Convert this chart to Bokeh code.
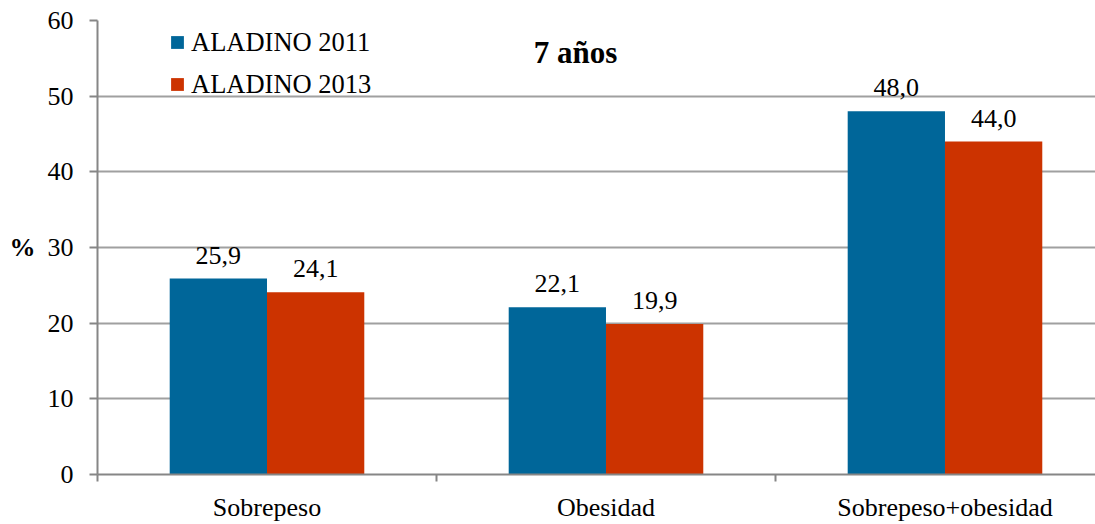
from bokeh.plotting import figure
from bokeh.models import (ColumnDataSource, Range1d, FixedTicker, LabelSet, Label,
                          Legend, LegendItem)
from bokeh.core.properties import value
from bokeh.embed import file_html
from bokeh.resources import INLINE

categories = ["Sobrepeso", "Obesidad", "Sobrepeso+obesidad"]
series_names = ["ALADINO 2011", "ALADINO 2013"]
values_2011 = [25.9, 22.1, 48.0]
values_2013 = [24.1, 19.9, 44.0]
y_ticks = [0, 10, 20, 30, 40, 50, 60]
colors = ["#006699", "#CC3300"]

FONT = "Times New Roman"
BW = 0.287

centers = [i + 0.5 for i in range(len(categories))]

p = figure(width=1095, height=524, output_backend="svg", toolbar_location=None,
           x_range=Range1d(0, 2.944), y_range=Range1d(0, 60),
           min_border_left=97, min_border_right=0, min_border_top=20, min_border_bottom=50)
p.outline_line_color = None
p.background_fill_color = "white"

src1 = ColumnDataSource(dict(x=[c - BW / 2 for c in centers], top=values_2011,
                             lab=[f"{v:.1f}".replace(".", ",") for v in values_2011]))
src2 = ColumnDataSource(dict(x=[c + BW / 2 for c in centers], top=values_2013,
                             lab=[f"{v:.1f}".replace(".", ",") for v in values_2013]))

r1 = p.vbar(x="x", top="top", width=BW, source=src1, fill_color=colors[0], line_color=None)
r2 = p.vbar(x="x", top="top", width=BW, source=src2, fill_color=colors[1], line_color=None)

for s in (src1, src2):
    p.add_layout(LabelSet(x="x", y="top", text="lab", source=s, text_align="center",
                          text_baseline="alphabetic", y_offset=15,
                          text_font=value(FONT), text_font_size="26px", text_color="black"))

# axes
p.yaxis.ticker = FixedTicker(ticks=y_ticks)
p.yaxis.major_tick_out = 8
p.yaxis.major_tick_in = 0
p.yaxis.minor_tick_out = 0
p.yaxis.axis_line_color = "#868686"
p.yaxis.axis_line_width = 2
p.yaxis.major_tick_line_color = "#868686"
p.yaxis.major_tick_line_width = 2
p.yaxis.major_label_text_font = FONT
p.yaxis.major_label_text_font_size = "26px"
p.yaxis.major_label_text_color = "black"
p.yaxis.major_label_standoff = 16
p.yaxis.axis_label = "%"
p.yaxis.axis_label_orientation = "horizontal"
p.yaxis.axis_label_text_font = FONT
p.yaxis.axis_label_text_font_size = "26px"
p.yaxis.axis_label_text_font_style = "bold"
p.yaxis.axis_label_text_color = "black"
p.yaxis.axis_label_standoff = 9

p.xaxis.ticker = FixedTicker(ticks=centers, minor_ticks=[0, 1, 2, 3])
p.xaxis.major_label_overrides = {c: n for c, n in zip(centers, categories)}
p.xaxis.major_tick_out = 0
p.xaxis.major_tick_in = 0
p.xaxis.minor_tick_out = 7
p.xaxis.minor_tick_in = 0
p.xaxis.minor_tick_line_color = "#868686"
p.xaxis.minor_tick_line_width = 2
p.xaxis.axis_line_color = "#868686"
p.xaxis.axis_line_width = 2
p.xaxis.major_label_text_font = FONT
p.xaxis.major_label_text_font_size = "26px"
p.xaxis.major_label_text_color = "black"
p.xaxis.major_label_standoff = 11

p.xgrid.grid_line_color = None
p.ygrid.ticker = FixedTicker(ticks=y_ticks[1:])
p.ygrid.grid_line_color = "#A0A0A0"
p.ygrid.grid_line_width = 2

p.add_layout(Label(x=1.41, y=55.8, text="7 años", text_align="center", text_baseline="middle",
                   text_font=FONT, text_font_size="31px", text_font_style="bold",
                   text_color="black"))

legend = Legend(items=[LegendItem(label=series_names[0], renderers=[r1]),
                       LegendItem(label=series_names[1], renderers=[r2])],
                location=(72, 374), orientation="vertical",
                glyph_width=16, glyph_height=16, label_standoff=6, spacing=10,
                label_height=32,
                padding=0, margin=0, border_line_color=None, background_fill_alpha=0,
                label_text_font=FONT, label_text_font_size="26.5px", label_text_color="black")
p.add_layout(legend)

open("out.html", "w").write(file_html(p, INLINE))
